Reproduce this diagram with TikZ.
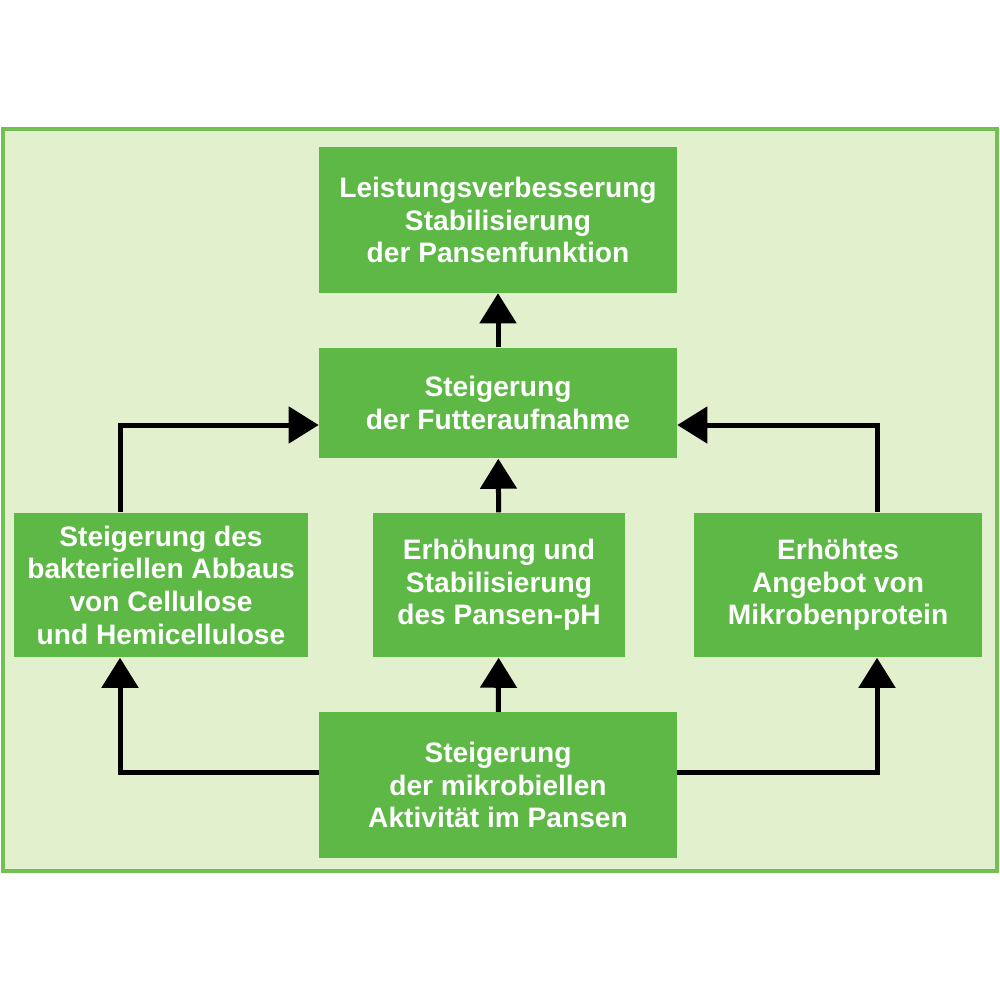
\documentclass[tikz,border=0pt]{standalone}
\usepackage{fontspec}
\setmainfont{Liberation Sans}
\usetikzlibrary{arrows.meta}
\definecolor{panelfill}{HTML}{E3F0CD}
\definecolor{panelline}{HTML}{72BF52}
\definecolor{boxgreen}{HTML}{5DB846}

\begin{document}
\begin{tikzpicture}[
  x=0.01cm, y=-0.01cm,
  box/.style={rectangle, fill=boxgreen, text=white, align=center, inner sep=0pt,
    font=\fontsize{8}{9.3}\selectfont\bfseries},
  arrow/.style={-{Triangle[width=0.36cm,length=0.3cm]}, line width=0.05cm, black}
]
\useasboundingbox (0,0) rectangle (1000,1000);
\fill[white] (0,0) rectangle (1000,1000);

% Panel
\draw[panelline, fill=panelfill, line width=0.04cm] (3,129) rectangle (997,871);

% Boxes
\node[box, minimum width=3.57cm, minimum height=1.45cm] (result) at (498,220) {Leistungsverbesserung\\Stabilisierung\\der Pansenfunktion};
\node[box, minimum width=3.57cm, minimum height=1.10cm] (intake) at (498,403) {Steigerung\\der Futteraufnahme};
\node[box, minimum width=2.93cm, minimum height=1.44cm] (cellulose) at (161,585) {Steigerung des\\bakteriellen Abbaus\\von Cellulose\\und Hemicellulose};
\node[box, minimum width=2.52cm, minimum height=1.44cm] (ph) at (499,585) {Erhöhung und\\Stabilisierung\\des Pansen-pH};
\node[box, minimum width=2.87cm, minimum height=1.44cm] (protein) at (838,585) {Erhöhtes\\Angebot von\\Mikrobenprotein};
\node[box, minimum width=3.57cm, minimum height=1.45cm] (activity) at (498,785) {Steigerung\\der mikrobiellen\\Aktivität im Pansen};

% Arrows
\draw[arrow] (intake) -- (result);
\draw[arrow] (ph) -- (intake);
\draw[arrow] (activity) -- (ph);
\draw[arrow] (cellulose.north -| 120,0) |- (intake.west |- 0,425);
\draw[arrow] (protein.north -| 877,0) |- (intake.east |- 0,425);
\draw[arrow] (activity.west |- 0,772) -| (cellulose.south -| 120,0);
\draw[arrow] (activity.east |- 0,772) -| (protein.south -| 877,0);
\end{tikzpicture}
\end{document}
